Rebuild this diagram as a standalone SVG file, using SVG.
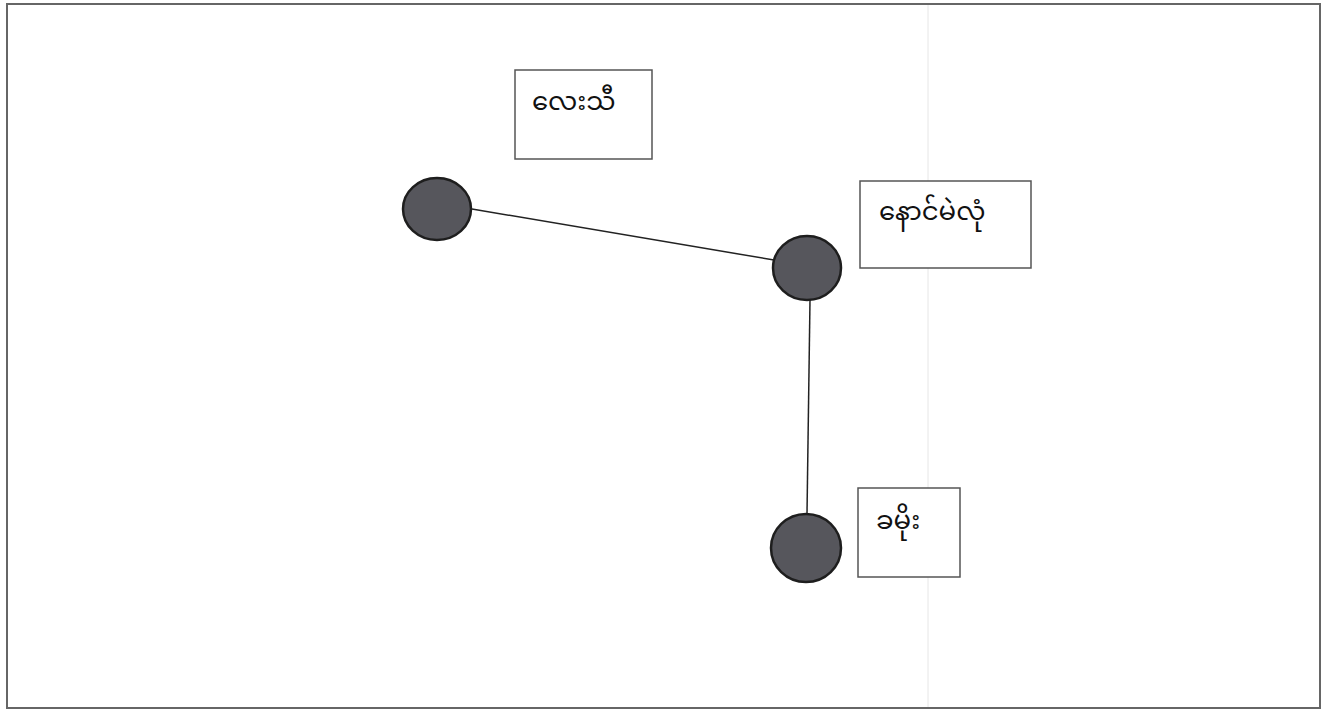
<svg xmlns="http://www.w3.org/2000/svg" width="1331" height="711" viewBox="0 0 1331 711">
<style>
.box{fill:#fff;stroke:#555;stroke-width:1.5}
.node{fill:#56565c;stroke:#1e1e1e;stroke-width:2.5}
.lbl{font-family:"Noto Sans Myanmar","Padauk","Myanmar Text","Noto Sans",sans-serif;font-size:26px;fill:#111}
.edge{stroke:#222;stroke-width:1.5;fill:none}
</style>
<rect x="0" y="0" width="1331" height="711" fill="#fff"/>
<line x1="928" y1="5" x2="928" y2="708" stroke="#e6e6e6" stroke-width="1"/>
<rect x="7" y="4" width="1313" height="704" fill="none" stroke="#666" stroke-width="2"/>
<g id="connectors">
<line class="edge" x1="472" y1="209" x2="774" y2="260"/>
<line class="edge" x1="810" y1="300" x2="807" y2="514"/>
</g>
<g id="node-lay-thi">
<rect class="box" x="515" y="70" width="137" height="89"/>
<text class="lbl" x="532" y="110">လေးသီ</text>
<ellipse class="node" cx="437" cy="209" rx="34" ry="31"/>
</g>
<g id="node-naung-mae-lon">
<rect class="box" x="860" y="181" width="171" height="87"/>
<text class="lbl" x="879" y="220">နောင်မဲလုံ</text>
<ellipse class="node" cx="807" cy="268" rx="34" ry="32"/>
</g>
<g id="node-kha-moe">
<rect class="box" x="858" y="488" width="102" height="89"/>
<text class="lbl" x="876" y="529">ခမိုး</text>
<ellipse class="node" cx="806" cy="548" rx="35" ry="34"/>
</g>
</svg>
